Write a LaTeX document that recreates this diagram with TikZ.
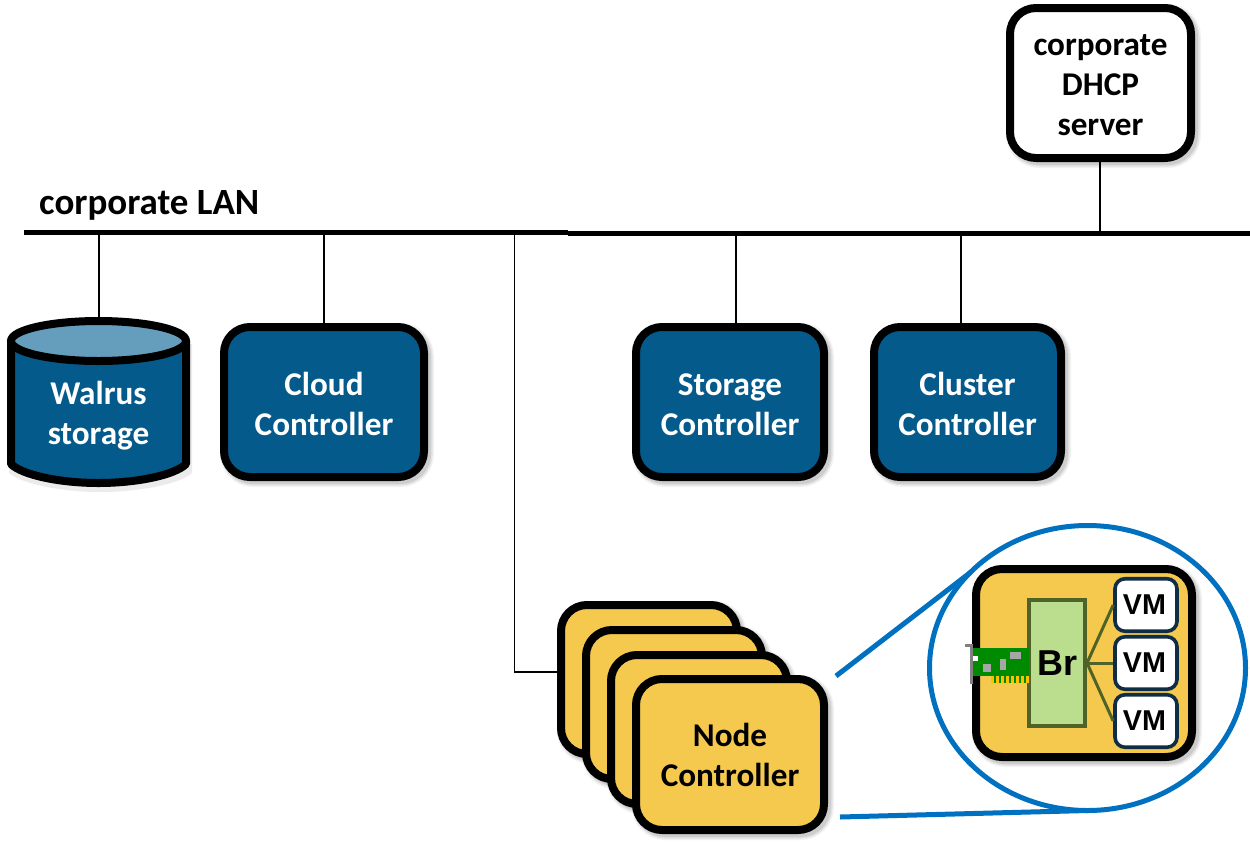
\documentclass[tikz,border=0pt]{standalone}
\usepackage{fontspec}
\setmainfont{Carlito}
\newfontfamily\arialbold{Liberation Sans}
\usetikzlibrary{shapes.geometric}
\newcommand{\ctrltop}{\rule{0pt}{27.5pt}}
\newcommand{\dhcptop}{\rule{0pt}{25pt}}
\definecolor{ctrlblue}{HTML}{055A8C}
\definecolor{lidblue}{HTML}{659EBC}
\definecolor{nodeyellow}{HTML}{F5C94E}
\definecolor{lensblue}{HTML}{0070C0}
\definecolor{brgreen}{HTML}{BBDD8E}
\definecolor{brline}{HTML}{4F6228}
\definecolor{vmline}{HTML}{0F2E45}
\definecolor{nicgreen}{HTML}{008A00}
\definecolor{nicgold}{HTML}{FFC000}
\definecolor{nicgray}{HTML}{A6A6A6}
\definecolor{bracket}{HTML}{808080}
\tikzset{
  softshadow/.style={
    preaction={draw=black,fill=black,opacity=.05,line width=14pt,transform canvas={shift={(3pt,-3pt)}}},
    preaction={draw=black,fill=black,opacity=.07,line width=11pt,transform canvas={shift={(3pt,-3pt)}}},
    preaction={draw=black,fill=black,opacity=.09,line width=8pt,transform canvas={shift={(3pt,-3pt)}}}
  },
  labeltext/.style={font=\fontsize{33.2}{40}\selectfont\bfseries,align=center,inner sep=0pt},
  whitetext/.style={labeltext,text=white},
  box/.style={draw=black,line width=8pt,rounded corners=26pt,softshadow,inner sep=0pt,outer sep=0pt},
  ctrlbox/.style={box,fill=ctrlblue,text=white,font=\fontsize{33.2}{40}\selectfont\bfseries,align=center},
  nodebox/.style={box,fill=nodeyellow,font=\fontsize{33.2}{40}\selectfont\bfseries,align=center},
  thinline/.style={draw=black,line width=1.5pt},
  busline/.style={draw=black,line width=5pt},
  lensline/.style={draw=lensblue,line width=5pt},
  brlink/.style={draw=brline,line width=3pt},
  vmbox/.style={draw=vmline,fill=white,line width=3.6pt,rounded corners=10pt,minimum width=62pt,minimum height=52.5pt,inner sep=0pt,font=\fontsize{28.7}{31}\selectfont\arialbold\bfseries}
}
\begin{document}
\begin{tikzpicture}[x=1pt,y=-1pt]
\useasboundingbox (0,0) rectangle (1250,847);
% bus and taps
\coordinate (busL) at (24,232.7);
\coordinate (busM) at (568,232.7);
\coordinate (busN) at (568,233.8);
\coordinate (busR) at (1250,233.8);
\coordinate (tapW) at (99,233);
\coordinate (tapC) at (324,233);
\coordinate (tapN) at (514.5,233);
\coordinate (tapS) at (736,233);
\coordinate (tapK) at (961,233);
\coordinate (tapD) at (1100,233);
\coordinate (tapWend) at (99,319);
\coordinate (nEntry) at (560,672);
\node[box,fill=white,minimum width=181pt,minimum height=150pt,align=center,font=\fontsize{33.2}{40}\selectfont\bfseries] (dhcp) at (1100.5,83) {\dhcptop corporate\\DHCP\\server};
\node[ctrlbox,minimum width=200pt,minimum height=150pt] (cloud) at (324,402) {\ctrltop Cloud\\Controller};
\node[ctrlbox,minimum width=188pt,minimum height=150pt] (storage) at (730,402) {\ctrltop Storage\\Controller};
\node[ctrlbox,minimum width=187pt,minimum height=150pt] (cluster) at (967.5,402) {\ctrltop Cluster\\Controller};
% Walrus cylinder
\path[fill=black,opacity=.08,transform canvas={shift={(2pt,-3pt)}}] (7,341) -- (7,470) .. controls (20,481) and (60,489) .. (98.5,489) .. controls (137,489) and (178,481) .. (190,470) -- (190,341) -- cycle;
\path[draw=black,fill=ctrlblue,line width=8pt,line join=round]
  (11,341) -- (11,464) .. controls (22,475) and (60,483) .. (98.5,483) .. controls (137,483) and (175,475) .. (186,464) -- (186,341) -- cycle;
\path[draw=black,fill=lidblue,line width=8pt] (98.5,341) ellipse [x radius=87.5,y radius=20];
\node[whitetext] (walrus) at (98.5,416) {Walrus\\storage};
\draw[thinline] (tapW) -- (tapWend);
\draw[thinline] (tapC) -- (tapC |- cloud.north);
\draw[thinline] (tapS) -- (tapS |- storage.north);
\draw[thinline] (tapK) -- (tapK |- cluster.north);
\draw[thinline] (tapD) -- (tapD |- dhcp.south);
\draw[thinline] (tapN) |- (nEntry);
\draw[busline] (busL) -- (busM);
\draw[busline] (busN) -- (busR);
\node[labeltext,anchor=base west,font=\fontsize{37}{40}\selectfont\bfseries] (lan) at (39,214) {corporate LAN};
% node controller stack
\node[nodebox,minimum width=176pt,minimum height=149pt] (n1) at (649,679.5) {};
\node[nodebox,minimum width=176pt,minimum height=149pt] (n2) at (674,704.5) {};
\node[nodebox,minimum width=176pt,minimum height=149pt] (n3) at (699,729.5) {};
\node[nodebox,minimum width=188pt,minimum height=151pt] (n4) at (730,754.5) {Node\\Controller};
% lens
\coordinate (zoomA) at (836,676);
\coordinate (zoomB) at (840,817);
\node[ellipse,draw=lensblue,line width=5pt,fill=white,minimum width=316pt,minimum height=285pt,inner sep=0pt,outer sep=0pt] (lens) at (1087.5,668) {};
\draw[lensline] (zoomA) -- (lens.141);
\draw[lensline] (zoomB) -- (lens.south);
% zoomed node
\node[box,fill=nodeyellow,minimum width=216pt,minimum height=188pt] (inner) at (1084,663) {};
\node[draw=brline,fill=brgreen,line width=3.6pt,minimum width=56.5pt,minimum height=126.5pt,inner sep=0pt,font=\fontsize{36}{38}\selectfont\arialbold\bfseries] (br) at (1057,663) {Br};
\node[vmbox] (vm1) at (1146,605) {VM\hspace*{3pt}};
\node[vmbox] (vm2) at (1146,663) {VM\hspace*{3pt}};
\node[vmbox] (vm3) at (1146,721) {VM\hspace*{3pt}};
\draw[brlink] (br.east) -- (vm1.west);
\draw[brlink] (br.east) -- (vm2.west);
\draw[brlink] (br.east) -- (vm3.west);
% network card
\fill[nicgreen] (973,648) rectangle (1029,676);
\fill[nicgreen] (991,676) rectangle (1029,683);
\foreach \i in {0,...,7} {\fill[nicgold] ({991+5*\i},676) rectangle ({994+5*\i},683);}
\fill[bracket] (970,644) rectangle (973,684);
\fill[bracket] (965,644) rectangle (973,647);
\fill[white] (973,656) rectangle (978,661);
\fill[nicgray] (983,664) rectangle (991,672);
\fill[nicgray] (1000,659) rectangle (1006,670);
\fill[nicgray] (1010,652) rectangle (1021,659);
\end{tikzpicture}
\end{document}
